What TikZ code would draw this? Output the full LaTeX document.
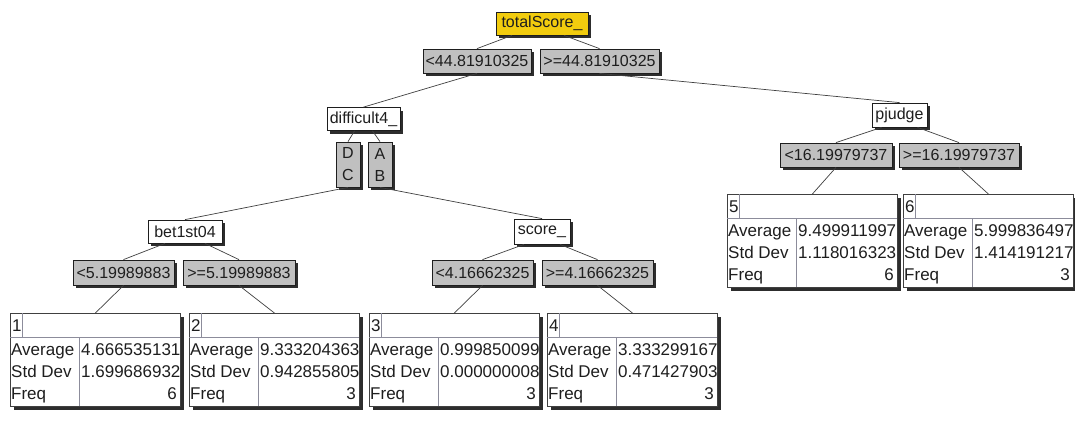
\documentclass[tikz,border=0pt]{standalone}
\usepackage{fontspec}
\setmainfont{Liberation Sans}
\usetikzlibrary{shadows}
\definecolor{silverbox}{RGB}{192,192,192}
\definecolor{rootyellow}{RGB}{242,204,14}
\definecolor{shadowgray}{RGB}{45,45,45}
\definecolor{gridl}{RGB}{140,140,155}
\definecolor{inkc}{RGB}{30,30,30}
\tikzset{
  txt/.style={font=\fontsize{16}{22}\selectfont, inner sep=0pt, text=inkc},
  ltxt/.style={font=\fontsize{17}{22}\selectfont, inner sep=0pt, text=inkc},
  boxshadow/.style={drop shadow={shadow xshift=3pt, shadow yshift=-3pt, fill=shadowgray, opacity=1}},
  splitbox/.style={txt, draw=inkc, line width=0.8pt, fill=silverbox, minimum height=24pt, boxshadow},
  varbox/.style={txt, draw=inkc, line width=0.8pt, fill=white, minimum height=23pt, boxshadow},
  rootbox/.style={varbox, fill=rootyellow},
  leafbox/.style={draw=black!75, line width=0.8pt, fill=white, minimum width=170pt, minimum height=93pt, inner sep=0pt,
    drop shadow={shadow xshift=4pt, shadow yshift=-4pt, fill=shadowgray, opacity=1}},
  inner/.style={draw=gridl, line width=0.6pt},
  conn/.style={draw=black!75, line width=0.7pt}
}
\newcommand{\leafpanel}[7]{%
\begin{scope}[shift={(#2,#3)}]
  \node[leafbox, anchor=north west] (#1) at (0,0) {};
  \draw[inner] (0,24) -- (170,24);
  \draw[inner] (12,0) -- (12,24);
  \draw[inner] (69,24) -- (69,93);
  \node[ltxt, anchor=base west] (#1-n) at (2,18) {#4};
  \node[ltxt, anchor=base west] (#1-al) at (1,42) {Average};
  \node[ltxt, anchor=base west] (#1-av) at (71,42) {#5};
  \node[ltxt, anchor=base west] (#1-sl) at (1,64) {Std Dev};
  \node[ltxt, anchor=base west] (#1-sv) at (71,64) {#6};
  \node[ltxt, anchor=base west] (#1-fl) at (1,86) {Freq};
  \node[ltxt, anchor=base east] (#1-fv) at (167,86) {#7};
\end{scope}}
\begin{document}
\begin{tikzpicture}[x=1pt,y=-1pt]
\useasboundingbox[fill=white] (0,0) rectangle (1075,421);

% split variable boxes
\node[rootbox, minimum width=92pt] (root) at (542,23.5) {totalScore\_};
\node[varbox, minimum width=73pt] (diff) at (363.5,119) {difficult4\_};
\node[varbox, minimum width=55pt, minimum height=24pt] (pj) at (899.5,115) {pjudge};
\node[varbox, minimum width=74pt] (bet) at (185,231.5) {bet1st04};
\node[varbox, minimum width=56pt, minimum height=25pt] (sc) at (542,231.5) {score\_};

% split condition boxes
\node[splitbox, minimum width=108pt] (l1a) at (477,61) {<44.81910325};
\node[splitbox, minimum width=119pt] (l1b) at (599.5,61) {>=44.81910325};
\node[splitbox, minimum width=24pt, minimum height=45pt, align=center] (dc) at (348,164.5) {D\\C};
\node[splitbox, minimum width=24pt, minimum height=45pt, align=center] (ab) at (380,164.5) {A\\B};
\node[splitbox, minimum width=112pt] (l2a) at (836,155) {<16.19979737};
\node[splitbox, minimum width=120pt] (l2b) at (959,155) {>=16.19979737};
\node[splitbox, minimum width=101pt, minimum height=25pt] (l3a) at (123.5,272.5) {<5.19989883};
\node[splitbox, minimum width=112pt, minimum height=25pt] (l3b) at (239,272.5) {>=5.19989883};
\node[splitbox, minimum width=101pt, minimum height=25pt] (l4a) at (482.5,272.5) {<4.16662325};
\node[splitbox, minimum width=111pt, minimum height=25pt] (l4b) at (597.5,272.5) {>=4.16662325};

% leaves
\leafpanel{t1}{10}{313}{1}{4.666535131}{1.699686932}{6}
\leafpanel{t2}{189}{313}{2}{9.333204363}{0.942855805}{3}
\leafpanel{t3}{369}{313}{3}{0.999850099}{0.000000008}{3}
\leafpanel{t4}{547}{313}{4}{3.333299167}{0.471427903}{3}
\leafpanel{t5}{727}{194}{5}{9.499911997}{1.118016323}{6}
\leafpanel{t6}{903}{194}{6}{5.999836497}{1.414191217}{3}

% connectors
\draw[conn] ([xshift=-30pt]root.south) -- (l1a.north);
\draw[conn] ([xshift=22pt]root.south) -- (l1b.north);
\draw[conn] (l1a.south) -- (diff.north);
\draw[conn] (l1b.south) -- (pj.north);
\draw[conn] ([xshift=-9pt]diff.south) -- (dc.north);
\draw[conn] ([xshift=9pt]diff.south) -- (ab.north);
\draw[conn] (dc.south) -- (bet.north);
\draw[conn] (ab.south) -- (sc.north);
\draw[conn] ([xshift=-18pt]pj.south) -- (l2a.north);
\draw[conn] ([xshift=18pt]pj.south) -- (l2b.north);
\draw[conn] (l2a.south) -- (t5.north);
\draw[conn] (l2b.south) -- (t6.north);
\draw[conn] ([xshift=-20pt]bet.south) -- (l3a.north);
\draw[conn] ([xshift=20pt]bet.south) -- (l3b.north);
\draw[conn] (l3a.south) -- (t1.north);
\draw[conn] (l3b.south) -- (t2.north);
\draw[conn] ([xshift=-18pt]sc.south) -- (l4a.north);
\draw[conn] ([xshift=18pt]sc.south) -- (l4b.north);
\draw[conn] (l4a.south) -- (t3.north);
\draw[conn] (l4b.south) -- (t4.north);
\end{tikzpicture}
\end{document}
